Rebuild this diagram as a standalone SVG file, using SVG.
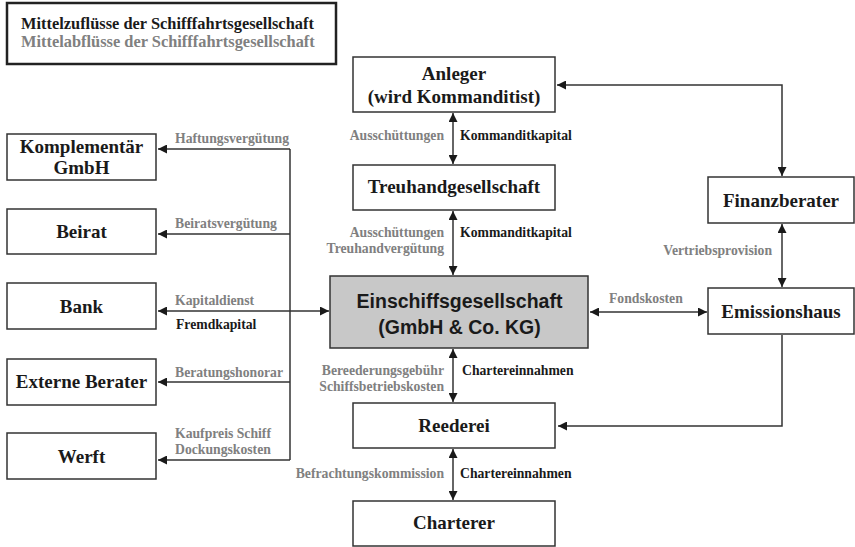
<svg xmlns="http://www.w3.org/2000/svg" width="855" height="547" viewBox="0 0 855 547">
<style>
.box{fill:#fff;stroke:#333;stroke-width:1.5}
.main{fill:#c8c8c8;stroke:#333;stroke-width:1.5}
.nt{font-family:"Liberation Serif","Times New Roman",serif;font-weight:bold;font-size:19px;fill:#1a1a1a;text-anchor:middle}
.mt{font-family:"Liberation Sans",Arial,sans-serif;font-weight:bold;font-size:19.5px;fill:#1a1a1a;text-anchor:middle}
.lb{font-family:"Liberation Serif","Times New Roman",serif;font-weight:bold;font-size:13.7px;fill:#1a1a1a}
.lg{font-family:"Liberation Serif","Times New Roman",serif;font-weight:bold;font-size:13.7px;fill:#808080}
.end{text-anchor:end}
.ln{fill:none;stroke:#333;stroke-width:1.5}
.leg{font-family:"Liberation Serif","Times New Roman",serif;font-weight:bold;font-size:16.4px}
</style>
<defs>
<marker id="ah" viewBox="0 0 10 10" refX="10" refY="5" markerWidth="9" markerHeight="9" markerUnits="userSpaceOnUse" orient="auto-start-reverse">
<path d="M0,0 L10,5 L0,10 Z" fill="#1a1a1a"/>
</marker>
</defs>

<g id="legend">
<rect x="7" y="3" width="329" height="61" fill="#fff" stroke="#222" stroke-width="2.5"/>
<text class="leg" x="21" y="29" fill="#1a1a1a">Mittelzuflüsse der Schifffahrtsgesellschaft</text>
<text class="leg" x="21" y="47" fill="#808080">Mittelabflüsse der Schifffahrtsgesellschaft</text>
</g>

<g id="connectors">
<path class="ln" d="M290 149 V460"/>
<path class="ln" d="M290 149 H158" marker-end="url(#ah)"/>
<path class="ln" d="M290 234 H158" marker-end="url(#ah)"/>
<path class="ln" d="M158 311 H329" marker-start="url(#ah)" marker-end="url(#ah)"/>
<path class="ln" d="M290 382 H158" marker-end="url(#ah)"/>
<path class="ln" d="M290 460 H158" marker-end="url(#ah)"/>
<path class="ln" d="M453 113 V164" marker-start="url(#ah)" marker-end="url(#ah)"/>
<path class="ln" d="M453 211 V275" marker-start="url(#ah)" marker-end="url(#ah)"/>
<path class="ln" d="M453 349 V402" marker-start="url(#ah)" marker-end="url(#ah)"/>
<path class="ln" d="M453 449 V500" marker-start="url(#ah)" marker-end="url(#ah)"/>
<path class="ln" d="M557 85 H782 V176" marker-start="url(#ah)" marker-end="url(#ah)"/>
<path class="ln" d="M782 224 V287" marker-start="url(#ah)" marker-end="url(#ah)"/>
<path class="ln" d="M590 312 H707" marker-start="url(#ah)" marker-end="url(#ah)"/>
<path class="ln" d="M782 335 V426 H558" marker-end="url(#ah)"/>
</g>

<g id="labels">
<text class="lg" x="175" y="143">Haftungsvergütung</text>
<text class="lg" x="175" y="228">Beiratsvergütung</text>
<text class="lg" x="175" y="305">Kapitaldienst</text>
<text class="lb" x="176" y="329">Fremdkapital</text>
<text class="lg" x="175" y="377">Beratungshonorar</text>
<text class="lg" x="175" y="438">Kaufpreis Schiff</text>
<text class="lg" x="175" y="454">Dockungskosten</text>
<text class="lg end" x="444" y="140">Ausschüttungen</text>
<text class="lb" x="460" y="140">Kommanditkapital</text>
<text class="lg end" x="444" y="237">Ausschüttungen</text>
<text class="lg end" x="444" y="253">Treuhandvergütung</text>
<text class="lb" x="460" y="237">Kommanditkapital</text>
<text class="lg end" x="444" y="375">Bereederungsgebühr</text>
<text class="lg end" x="444" y="391">Schiffsbetriebskosten</text>
<text class="lb" x="462" y="375">Chartereinnahmen</text>
<text class="lg end" x="444" y="478">Befrachtungskommission</text>
<text class="lb" x="460" y="478">Chartereinnahmen</text>
<text class="lg end" x="772" y="255">Vertriebsprovision</text>
<text class="lg" x="609" y="303">Fondskosten</text>
</g>

<g id="komplementaer">
<rect class="box" x="7" y="134" width="149" height="46"/>
<text class="nt" x="81.5" y="153">Komplementär</text>
<text class="nt" x="81.5" y="174">GmbH</text>
</g>
<g id="beirat">
<rect class="box" x="7" y="209" width="149" height="45"/>
<text class="nt" x="81.5" y="238">Beirat</text>
</g>
<g id="bank">
<rect class="box" x="7" y="283" width="149" height="46"/>
<text class="nt" x="81.5" y="313">Bank</text>
</g>
<g id="externe-berater">
<rect class="box" x="7" y="359" width="149" height="46"/>
<text class="nt" x="81.5" y="388">Externe Berater</text>
</g>
<g id="werft">
<rect class="box" x="7" y="433" width="149" height="46"/>
<text class="nt" x="81.5" y="463">Werft</text>
</g>
<g id="anleger">
<rect class="box" x="353" y="57" width="202" height="55"/>
<text class="nt" x="454" y="80">Anleger</text>
<text class="nt" x="454" y="103">(wird Kommanditist)</text>
</g>
<g id="treuhand">
<rect class="box" x="353" y="165" width="202" height="45"/>
<text class="nt" x="454" y="193">Treuhandgesellschaft</text>
</g>
<g id="einschiffsgesellschaft">
<rect class="main" x="330" y="276" width="258" height="72"/>
<text class="mt" x="459.5" y="308">Einschiffsgesellschaft</text>
<text class="mt" x="459.5" y="334">(GmbH &amp; Co. KG)</text>
</g>
<g id="reederei">
<rect class="box" x="353" y="403" width="202" height="45"/>
<text class="nt" x="454" y="432">Reederei</text>
</g>
<g id="charterer">
<rect class="box" x="353" y="501" width="202" height="45"/>
<text class="nt" x="454" y="529">Charterer</text>
</g>
<g id="finanzberater">
<rect class="box" x="708" y="177" width="146" height="46"/>
<text class="nt" x="781" y="207">Finanzberater</text>
</g>
<g id="emissionshaus">
<rect class="box" x="708" y="288" width="146" height="46"/>
<text class="nt" x="781" y="318">Emissionshaus</text>
</g>
</svg>
